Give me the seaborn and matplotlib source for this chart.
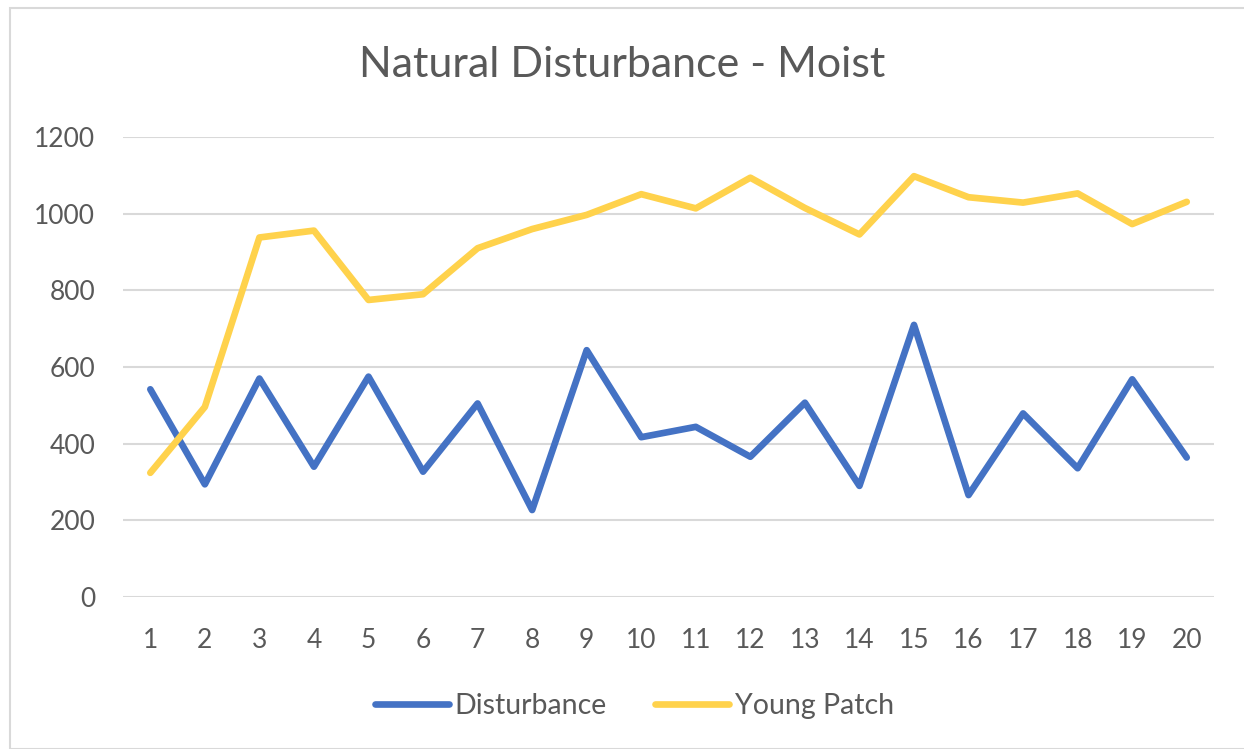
import pandas as pd
import matplotlib.pyplot as plt
import seaborn as sns
from matplotlib.patches import Rectangle

sns.set_style("white")
plt.rcParams['font.family'] = ['Lato', 'DejaVu Sans']

# data
steps = list(range(1, 21))
disturbance = [542, 294, 570, 340, 575, 327, 505, 227, 644, 417,
               444, 366, 507, 290, 710, 266, 479, 336, 568, 364]
young_patch = [324, 496, 938, 956, 775, 790, 910, 960, 997, 1051,
               1014, 1094, 1015, 946, 1098, 1043, 1029, 1053, 973, 1031]
series_names = ["Disturbance", "Young Patch"]
colors = ["#4472C4", "#FFD24C"]

df = pd.DataFrame({
    "Step": steps * 2,
    "Value": disturbance + young_patch,
    "Series": [series_names[0]] * len(steps) + [series_names[1]] * len(steps),
})

fig = plt.figure(figsize=(12.44, 7.49), dpi=100)
ax = fig.add_axes([0.0989, 0.2029, 0.877, 0.6141])

# chart border
fig.patches.append(Rectangle((10 / 1244, 0), 1240 / 1244, 741 / 749, transform=fig.transFigure,
                             fill=False, edgecolor="#D9D9D9", linewidth=1.5))

sns.lineplot(data=df, x="Step", y="Value", hue="Series", palette=colors,
             linewidth=4.8, ax=ax, legend=False)
for line in ax.get_lines():
    line.set_solid_joinstyle("round")
    line.set_solid_capstyle("round")

ax.set_xlim(0.5, 20.5)
ax.set_ylim(0, 1200)
ax.set_yticks(range(0, 1201, 200))
ax.set_xticks(steps)
ax.yaxis.grid(True, color="#D9D9D9", linewidth=1.5)
ax.set_axisbelow(True)
for s in ax.spines.values():
    s.set_visible(False)
ax.tick_params(axis="both", length=0, labelsize=19, labelcolor="#595959")
ax.tick_params(axis="y", pad=20)
ax.tick_params(axis="x", pad=22)
ax.set_xlabel("")
ax.set_ylabel("")

fig.text(0.5, 0.913, "Natural Disturbance - Moist", ha="center", va="center",
         fontsize=31, color="#595959")

handles = [plt.Line2D([], [], color=c, linewidth=4.8, solid_capstyle="round") for c in colors]
fig.legend(handles, series_names, loc="center", bbox_to_anchor=(0.51, 0.058), ncol=2,
           frameon=False, fontsize=20.5, labelcolor="#595959", handlelength=2.6,
           handletextpad=0.2, columnspacing=1.7)

fig.savefig("out.png", dpi=100)
